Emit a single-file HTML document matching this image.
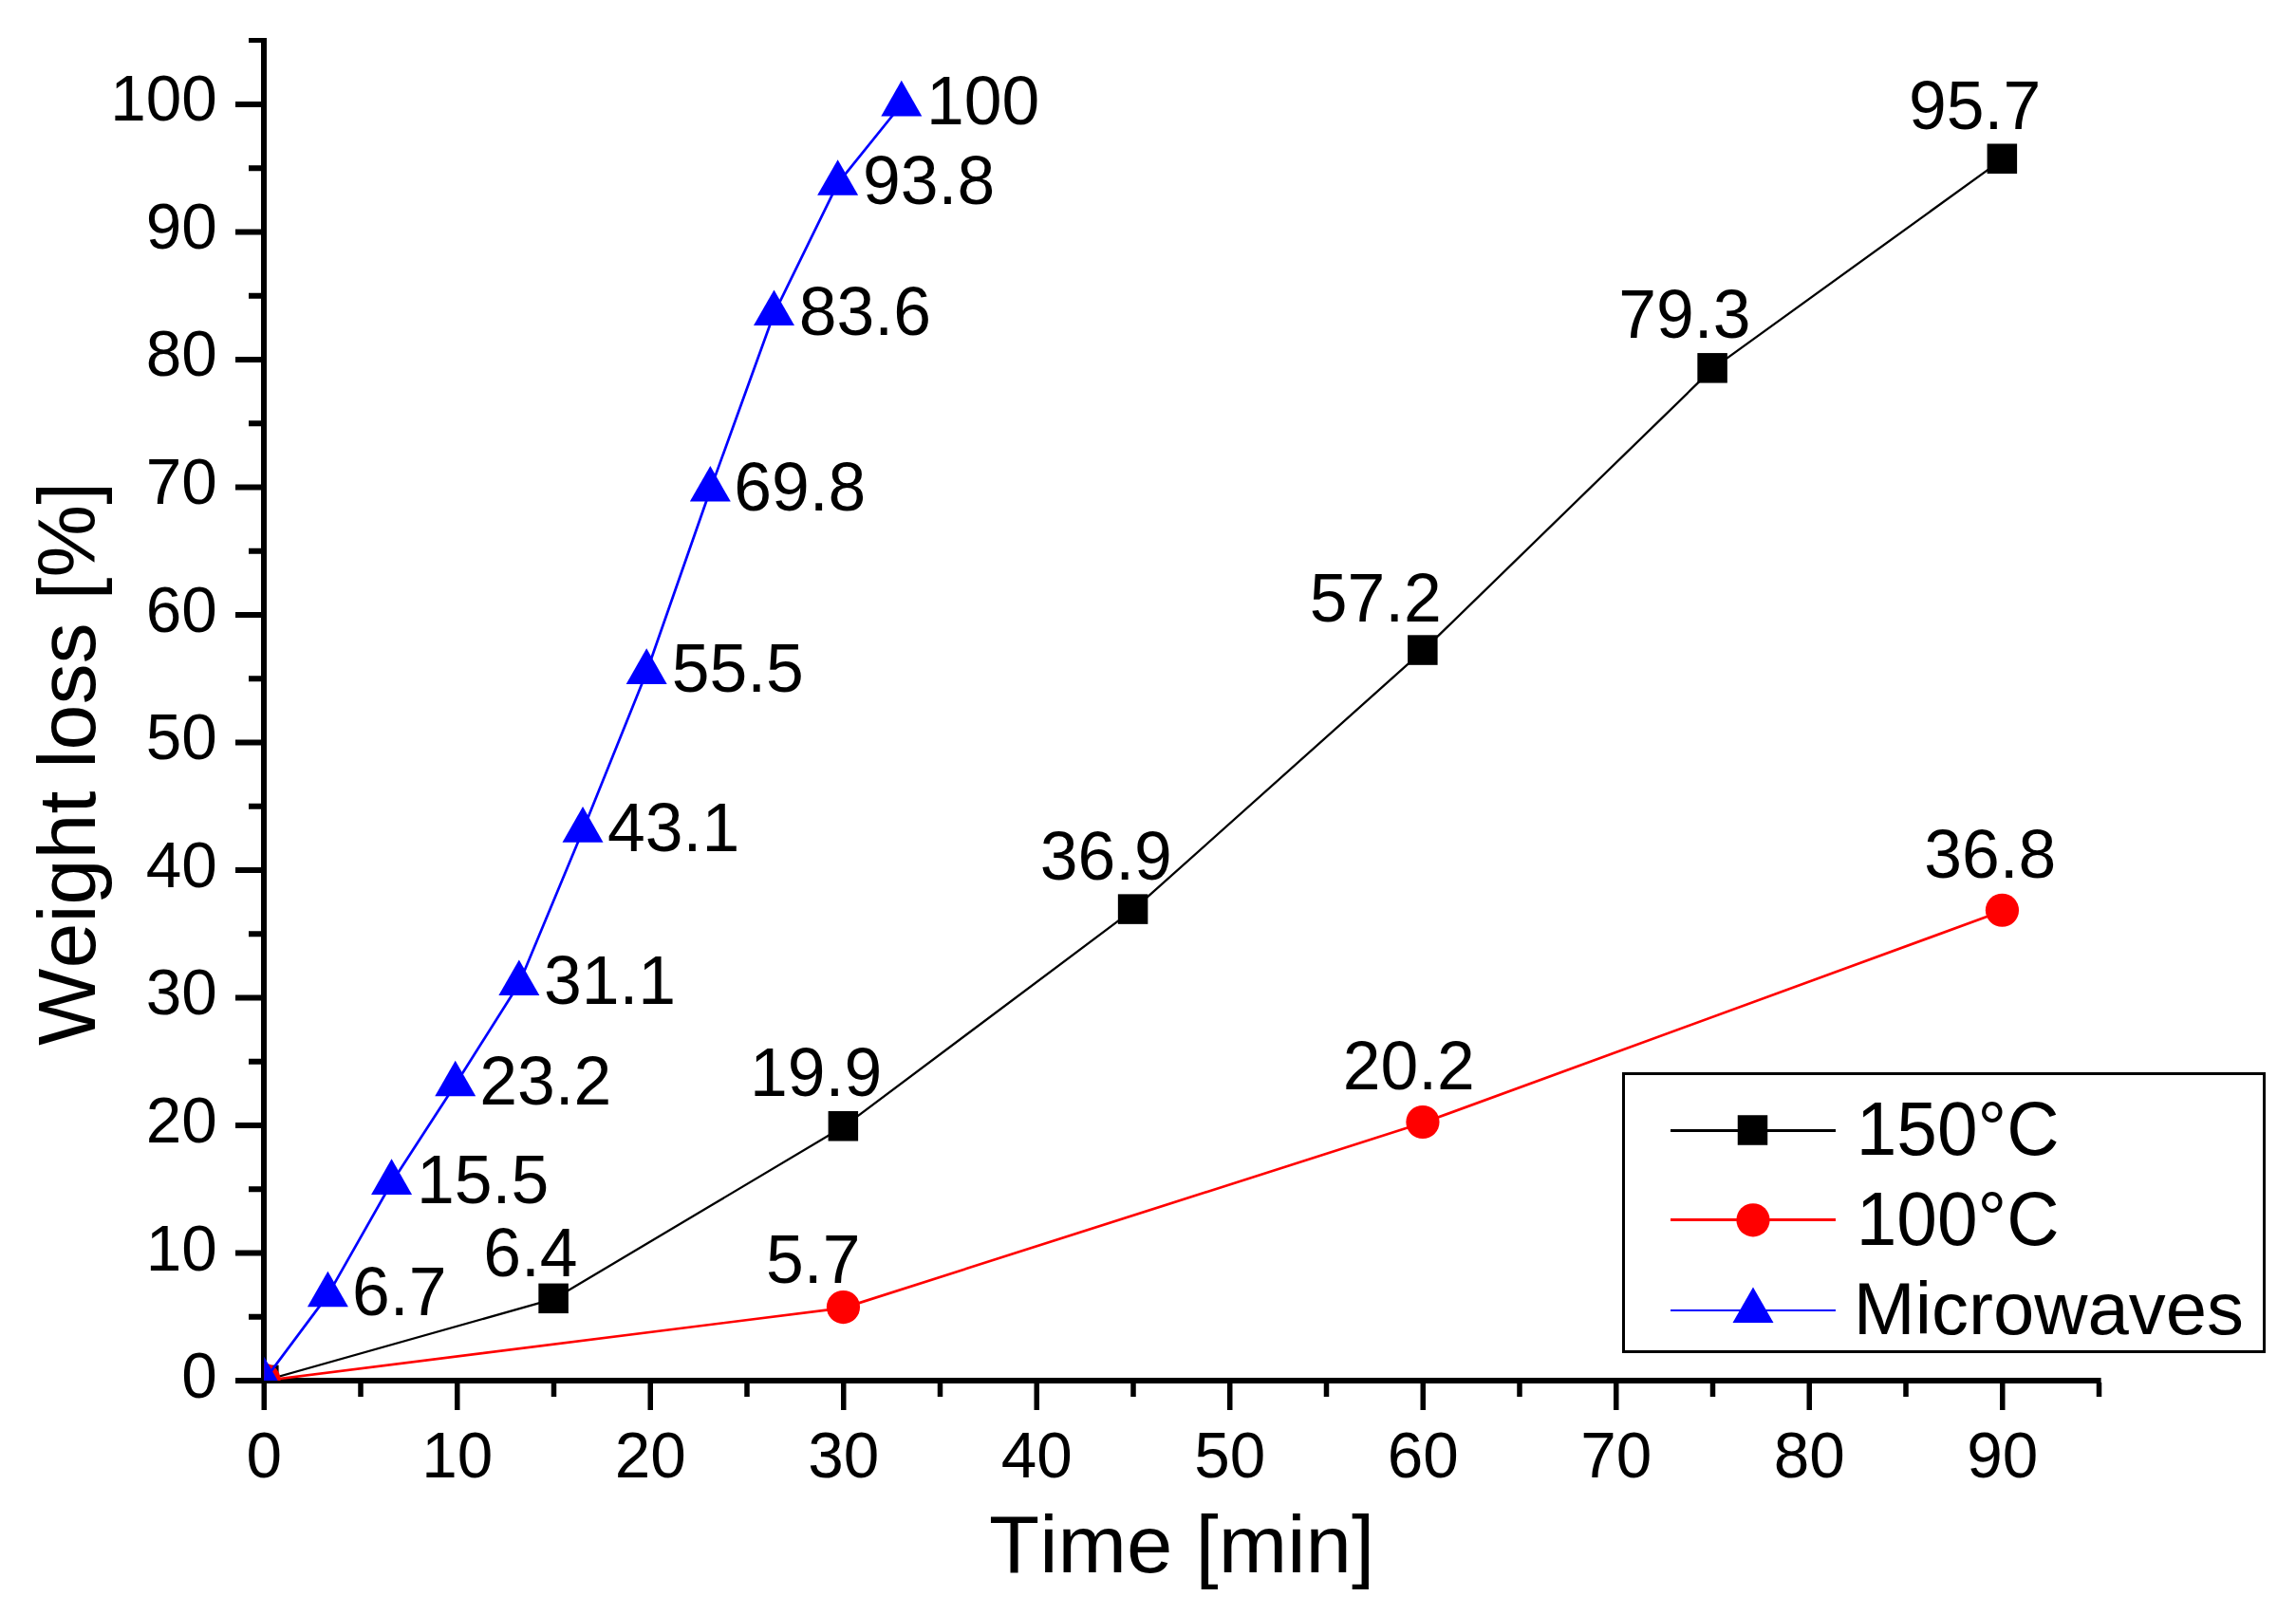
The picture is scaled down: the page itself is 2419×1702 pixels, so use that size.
<!DOCTYPE html>
<html><head><meta charset="utf-8"><title>Weight loss vs time</title>
<style>html,body{margin:0;padding:0;background:#fff;width:2419px;height:1702px;overflow:hidden}svg{display:block}text{font-family:"Liberation Sans",sans-serif;font-kerning:none;font-feature-settings:"kern" 0}</style>
</head><body>
<svg width="2419" height="1702" viewBox="0 0 2419 1702">
<rect width="100%" height="100%" fill="#fff"/>
<defs><clipPath id="pc"><rect x="278.25" y="30" width="1940" height="1425"/></clipPath></defs>
<g fill="#000">
<rect x="275" y="40" width="6" height="1418"/>
<rect x="275" y="1452" width="1938.6" height="6"/>
<rect x="248" y="1452.00" width="28" height="6"/>
<rect x="248" y="1317.50" width="28" height="6"/>
<rect x="248" y="1183.00" width="28" height="6"/>
<rect x="248" y="1048.50" width="28" height="6"/>
<rect x="248" y="914.00" width="28" height="6"/>
<rect x="248" y="779.50" width="28" height="6"/>
<rect x="248" y="645.00" width="28" height="6"/>
<rect x="248" y="510.50" width="28" height="6"/>
<rect x="248" y="376.00" width="28" height="6"/>
<rect x="248" y="241.50" width="28" height="6"/>
<rect x="248" y="107.00" width="28" height="6"/>
<rect x="262" y="1384.75" width="14" height="6"/>
<rect x="262" y="1250.25" width="14" height="6"/>
<rect x="262" y="1115.75" width="14" height="6"/>
<rect x="262" y="981.25" width="14" height="6"/>
<rect x="262" y="846.75" width="14" height="6"/>
<rect x="262" y="712.25" width="14" height="6"/>
<rect x="262" y="577.75" width="14" height="6"/>
<rect x="262" y="443.25" width="14" height="6"/>
<rect x="262" y="308.75" width="14" height="6"/>
<rect x="262" y="174.25" width="14" height="6"/>
<rect x="262" y="40" width="14" height="5"/>
<rect x="275.50" y="1457" width="5.5" height="29"/>
<rect x="479.00" y="1457" width="5.5" height="29"/>
<rect x="682.50" y="1457" width="5.5" height="29"/>
<rect x="886.00" y="1457" width="5.5" height="29"/>
<rect x="1089.50" y="1457" width="5.5" height="29"/>
<rect x="1293.00" y="1457" width="5.5" height="29"/>
<rect x="1496.50" y="1457" width="5.5" height="29"/>
<rect x="1700.00" y="1457" width="5.5" height="29"/>
<rect x="1903.50" y="1457" width="5.5" height="29"/>
<rect x="2107.00" y="1457" width="5.5" height="29"/>
<rect x="377.25" y="1457" width="5.5" height="15"/>
<rect x="580.75" y="1457" width="5.5" height="15"/>
<rect x="784.25" y="1457" width="5.5" height="15"/>
<rect x="987.75" y="1457" width="5.5" height="15"/>
<rect x="1191.25" y="1457" width="5.5" height="15"/>
<rect x="1394.75" y="1457" width="5.5" height="15"/>
<rect x="1598.25" y="1457" width="5.5" height="15"/>
<rect x="1801.75" y="1457" width="5.5" height="15"/>
<rect x="2005.25" y="1457" width="5.5" height="15"/>
<rect x="2208.75" y="1457" width="5.5" height="15"/>
</g>
<g clip-path="url(#pc)">
<polyline points="278.25,1455.00 583.50,1368.92 888.75,1187.35 1194.00,958.70 1499.25,685.66 1804.50,388.42 2109.75,167.84" fill="none" stroke="#000" stroke-width="2.3" stroke-linejoin="round"/>
<rect x="262.10" y="1438.65" width="31.5" height="31.5" fill="#000"/>
<rect x="567.35" y="1352.57" width="31.5" height="31.5" fill="#000"/>
<rect x="872.60" y="1171.00" width="31.5" height="31.5" fill="#000"/>
<rect x="1177.85" y="942.35" width="31.5" height="31.5" fill="#000"/>
<rect x="1483.10" y="669.31" width="31.5" height="31.5" fill="#000"/>
<rect x="1788.35" y="372.07" width="31.5" height="31.5" fill="#000"/>
<rect x="2093.60" y="151.49" width="31.5" height="31.5" fill="#000"/>
<polyline points="278.25,1455.00 888.75,1378.34 1499.25,1183.31 2109.75,960.04" fill="none" stroke="#f00" stroke-width="2.7" stroke-linejoin="round"/>
<circle cx="277.95" cy="1454.20" r="17.6" fill="#f00"/>
<circle cx="888.45" cy="1377.54" r="17.6" fill="#f00"/>
<circle cx="1498.95" cy="1182.51" r="17.6" fill="#f00"/>
<circle cx="2109.45" cy="959.24" r="17.6" fill="#f00"/>
<polyline points="278.25,1455.00 345.40,1364.88 412.56,1246.53 479.72,1142.96 546.87,1036.70 614.03,875.31 681.18,708.53 748.34,516.19 815.49,330.58 882.64,193.39 949.80,110.00" fill="none" stroke="#00f" stroke-width="2.7" stroke-linejoin="round"/>
<polygon points="278.25,1429.80 299.75,1467.40 256.75,1467.40" fill="#00f"/>
<polygon points="345.40,1339.68 366.90,1377.29 323.90,1377.29" fill="#00f"/>
<polygon points="412.56,1221.33 434.06,1258.93 391.06,1258.93" fill="#00f"/>
<polygon points="479.72,1117.76 501.22,1155.36 458.22,1155.36" fill="#00f"/>
<polygon points="546.87,1011.50 568.37,1049.11 525.37,1049.11" fill="#00f"/>
<polygon points="614.03,850.11 635.53,887.71 592.53,887.71" fill="#00f"/>
<polygon points="681.18,683.33 702.68,720.93 659.68,720.93" fill="#00f"/>
<polygon points="748.34,490.99 769.84,528.59 726.84,528.59" fill="#00f"/>
<polygon points="815.49,305.38 836.99,342.98 793.99,342.98" fill="#00f"/>
<polygon points="882.64,168.19 904.14,205.79 861.14,205.79" fill="#00f"/>
<polygon points="949.80,84.80 971.30,122.40 928.30,122.40" fill="#00f"/>
</g>
<g font-family="Liberation Sans, sans-serif">
<text transform="translate(228.84,1473.30) scale(1,1.025)" font-size="67.5" text-anchor="end" fill="#000">0</text>
<text transform="translate(228.84,1338.67) scale(1,1.025)" font-size="67.5" text-anchor="end" fill="#000">10</text>
<text transform="translate(228.84,1204.04) scale(1,1.025)" font-size="67.5" text-anchor="end" fill="#000">20</text>
<text transform="translate(228.84,1069.41) scale(1,1.025)" font-size="67.5" text-anchor="end" fill="#000">30</text>
<text transform="translate(228.84,934.78) scale(1,1.025)" font-size="67.5" text-anchor="end" fill="#000">40</text>
<text transform="translate(228.84,800.15) scale(1,1.025)" font-size="67.5" text-anchor="end" fill="#000">50</text>
<text transform="translate(228.84,665.52) scale(1,1.025)" font-size="67.5" text-anchor="end" fill="#000">60</text>
<text transform="translate(228.84,530.89) scale(1,1.025)" font-size="67.5" text-anchor="end" fill="#000">70</text>
<text transform="translate(228.84,396.26) scale(1,1.025)" font-size="67.5" text-anchor="end" fill="#000">80</text>
<text transform="translate(228.84,261.63) scale(1,1.025)" font-size="67.5" text-anchor="end" fill="#000">90</text>
<text transform="translate(228.84,127.00) scale(1,1.025)" font-size="67.5" text-anchor="end" fill="#000">100</text>
<text transform="translate(278.25,1557.00) scale(1,1.025)" font-size="67.5" text-anchor="middle" fill="#000">0</text>
<text transform="translate(481.75,1557.00) scale(1,1.025)" font-size="67.5" text-anchor="middle" fill="#000">10</text>
<text transform="translate(685.25,1557.00) scale(1,1.025)" font-size="67.5" text-anchor="middle" fill="#000">20</text>
<text transform="translate(888.75,1557.00) scale(1,1.025)" font-size="67.5" text-anchor="middle" fill="#000">30</text>
<text transform="translate(1092.25,1557.00) scale(1,1.025)" font-size="67.5" text-anchor="middle" fill="#000">40</text>
<text transform="translate(1295.75,1557.00) scale(1,1.025)" font-size="67.5" text-anchor="middle" fill="#000">50</text>
<text transform="translate(1499.25,1557.00) scale(1,1.025)" font-size="67.5" text-anchor="middle" fill="#000">60</text>
<text transform="translate(1702.75,1557.00) scale(1,1.025)" font-size="67.5" text-anchor="middle" fill="#000">70</text>
<text transform="translate(1906.25,1557.00) scale(1,1.025)" font-size="67.5" text-anchor="middle" fill="#000">80</text>
<text transform="translate(2109.75,1557.00) scale(1,1.025)" font-size="67.5" text-anchor="middle" fill="#000">90</text>
<text transform="translate(371.07,1385.80) scale(1,1.0)" font-size="71.5" fill="#000">6.7</text>
<text transform="translate(439.01,1267.50) scale(1,1.0)" font-size="71.5" fill="#000">15.5</text>
<text transform="translate(505.20,1163.50) scale(1,1.0)" font-size="71.5" fill="#000">23.2</text>
<text transform="translate(572.98,1058.40) scale(1,1.0)" font-size="71.5" fill="#000">31.1</text>
<text transform="translate(640.06,896.60) scale(1,1.0)" font-size="71.5" fill="#000">43.1</text>
<text transform="translate(707.64,729.30) scale(1,1.0)" font-size="71.5" fill="#000">55.5</text>
<text transform="translate(773.17,537.60) scale(1,1.0)" font-size="71.5" fill="#000">69.8</text>
<text transform="translate(841.79,352.70) scale(1,1.0)" font-size="71.5" fill="#000">83.6</text>
<text transform="translate(909.05,215.30) scale(1,1.0)" font-size="71.5" fill="#000">93.8</text>
<text transform="translate(975.91,131.10) scale(1,1.0)" font-size="71.5" fill="#000">100</text>
<text transform="translate(509.17,1345.00) scale(1,1.0)" font-size="71.5" fill="#000">6.4</text>
<text transform="translate(790.01,1155.30) scale(1,1.0)" font-size="71.5" fill="#000">19.9</text>
<text transform="translate(1095.68,927.40) scale(1,1.0)" font-size="71.5" fill="#000">36.9</text>
<text transform="translate(1379.64,654.50) scale(1,1.0)" font-size="71.5" fill="#000">57.2</text>
<text transform="translate(1705.33,356.30) scale(1,1.0)" font-size="71.5" fill="#000">79.3</text>
<text transform="translate(2011.05,136.30) scale(1,1.0)" font-size="71.5" fill="#000">95.7</text>
<text transform="translate(807.04,1351.70) scale(1,1.0)" font-size="71.5" fill="#000">5.7</text>
<text transform="translate(1414.70,1148.00) scale(1,1.0)" font-size="71.5" fill="#000">20.2</text>
<text transform="translate(2027.18,925.40) scale(1,1.0)" font-size="71.5" fill="#000">36.8</text>
<text transform="translate(1042.05,1657.10) scale(1.0117,1.0)" font-size="86" fill="#000">Time [min]</text>
<text transform="translate(100,1101.88) rotate(-90) scale(1.0025,1)" font-size="86">Weight loss [%]</text>
<rect x="1710.5" y="1131.5" width="675" height="293" fill="none" stroke="#000" stroke-width="3"/>
<line x1="1760" y1="1191.5" x2="1934" y2="1191.5" stroke="#000" stroke-width="3"/>
<rect x="1830.75" y="1175.25" width="31.5" height="31.5" fill="#000"/>
<line x1="1760" y1="1285.5" x2="1934" y2="1285.5" stroke="#f00" stroke-width="3"/>
<circle cx="1847.00" cy="1285.80" r="17.6" fill="#f00"/>
<line x1="1760" y1="1381" x2="1934" y2="1381" stroke="#00f" stroke-width="2.2"/>
<polygon points="1847.00,1356.40 1868.50,1394.00 1825.50,1394.00" fill="#00f"/>
<text transform="translate(1955.75,1217.30) scale(1.0,1.03)" font-size="76.6" fill="#000">150°C</text>
<text transform="translate(1955.75,1312.10) scale(1.0,1.03)" font-size="76.6" fill="#000">100°C</text>
<text transform="translate(1952.81,1405.80) scale(1.017,1.005)" font-size="76.6" fill="#000">Microwaves</text>
</g>
</svg>
</body></html>
